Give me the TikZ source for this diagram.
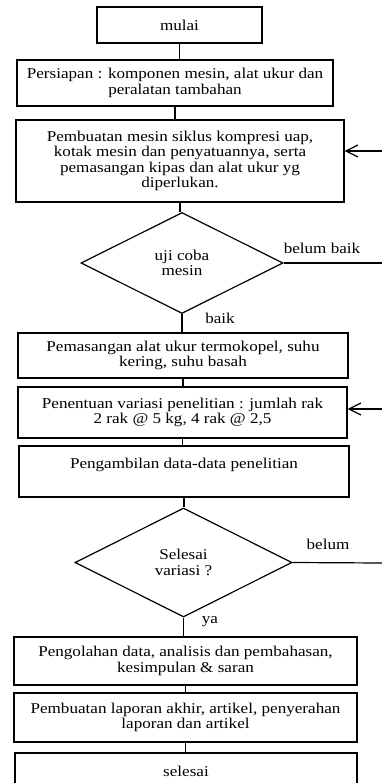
\documentclass[tikz,border=0pt]{standalone}
\usepackage{fontspec}
\setmainfont{Liberation Serif}[FakeStretch=1.14]
\usetikzlibrary{arrows.meta, shapes.geometric}

\begin{document}
\begin{tikzpicture}[x=1pt, y=-1pt, line width=1.2pt,
    box/.style={draw, align=center, inner sep=0pt, font=\fontsize{15}{15.5}\selectfont},
    choice/.style={draw, diamond, align=center, inner sep=0pt, font=\fontsize{15}{15.5}\selectfont},
    lbl/.style={inner sep=0pt, font=\fontsize{15}{15.5}\selectfont},
    >={Straight Barb[length=12pt,width=12pt]}]
  \clip (0,0) rectangle (382,783);

  \node[box, minimum width=165pt, minimum height=36pt]
      (mulai)   at (179.5,25)  {mulai};
  \node[box, minimum width=316pt, minimum height=46pt]
      (siap)    at (175,83)    {Persiapan : komponen mesin, alat ukur dan\\peralatan tambahan};
  \node[box, minimum width=328pt, minimum height=82pt]
      (mesin)   at (180,161)   {Pembuatan mesin siklus kompresi uap,\\kotak mesin dan penyatuannya, serta\\pemasangan kipas dan alat ukur yg\\diperlukan.};
  \node[choice, minimum width=202pt, minimum height=101pt]
      (uji)     at (182,263)   {uji coba\\mesin};
  \node[box, minimum width=330pt, minimum height=45pt]
      (pasang)  at (183,355.5) {Pemasangan alat ukur termokopel, suhu\\kering, suhu basah};
  \node[box, minimum width=329pt, minimum height=51pt]
      (variasi) at (182.5,412.5) {Penentuan variasi penelitian : jumlah rak\\2 rak @ 5 kg, 4 rak @ 2,5};
  \node[box, minimum width=330pt, minimum height=51pt]
      (ambil)   at (184,471.5) {Pengambilan data-data penelitian\\\mbox{}};
  \node[choice, minimum width=217pt, minimum height=109pt]
      (cek)     at (183.5,562.5) {Selesai\\variasi ?};
  \node[box, minimum width=343pt, minimum height=48pt]
      (olah)    at (185.5,661) {Pengolahan data, analisis dan pembahasan,\\kesimpulan \& saran};
  \node[box, minimum width=343pt, minimum height=49pt]
      (lapor)   at (185.5,717.5) {Pembuatan laporan akhir, artikel, penyerahan\\laporan dan artikel};
  \node[box, minimum width=342pt, minimum height=36pt]
      (selesai) at (186,771)   {selesai};

  % vertical flow
  \draw (mulai.south)   -- (mulai.south |- siap.north);
  \draw (siap.south)    -- (siap.south |- mesin.north);
  \draw (mesin.south)   -- (mesin.south |- uji.north);
  \draw (uji.south)     -- (uji.south |- pasang.north);
  \draw (pasang.south)  -- (pasang.south |- variasi.north);
  \draw (variasi.south) -- (variasi.south |- ambil.north);
  \draw (ambil.south)   -- (ambil.south |- cek.north);
  \draw (cek.south)     -- (cek.south |- olah.north);
  \draw (olah.south)    -- (olah.south |- lapor.north);
  \draw (lapor.south)   -- (lapor.south |- selesai.north);

  % loops back from the right edge
  \coordinate (out1) at (382,263);
  \coordinate (in1)  at (382,151);
  \coordinate (out2) at (382,563);
  \coordinate (in2)  at (382,409);
  \draw (uji.east) -- (out1);
  \draw[->] (in1) -- (in1 -| mesin.east);
  \draw (cek.east) -- (out2);
  \draw[->] (in2) -- (in2 -| variasi.east);

  \node[lbl] (bb)  at (322,248) {belum baik};
  \node[lbl] (ok)  at (220,318) {baik};
  \node[lbl] (bl)  at (328,544) {belum};
  \node[lbl] (ya)  at (210,622) {ya};
\end{tikzpicture}
\end{document}
